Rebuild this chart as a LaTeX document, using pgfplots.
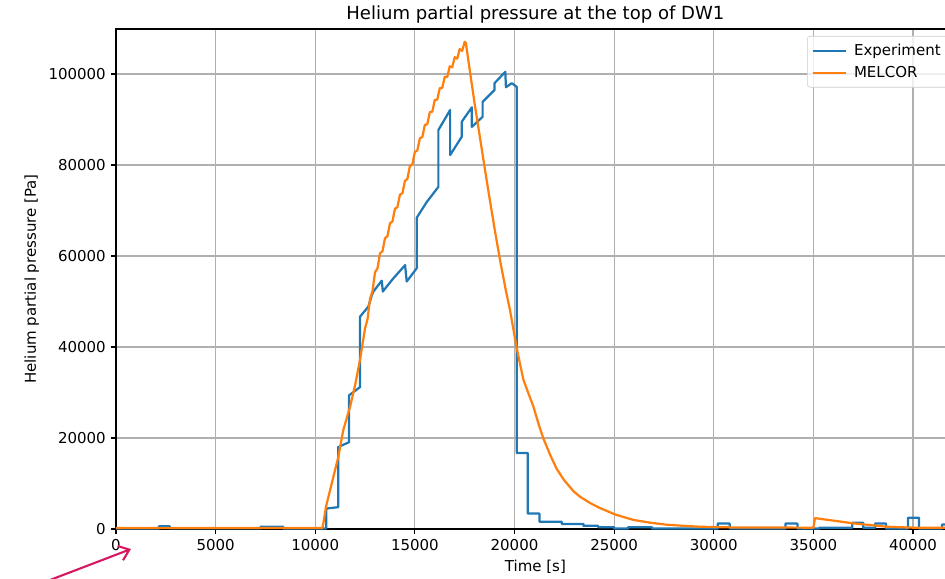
\documentclass[border=0pt]{standalone}
\usepackage{fontspec}
\setmainfont{DejaVu Sans}
\usepackage{pgfplots}
\pgfplotsset{compat=1.18}
\usetikzlibrary{arrows.meta}
\definecolor{mplblue}{HTML}{1F77B4}
\definecolor{mplorange}{HTML}{FF7F0E}
\definecolor{gridgray}{HTML}{B0B0B0}
\definecolor{legendgray}{HTML}{CCCCCC}
\definecolor{annot}{RGB}{214,22,96}
\begin{document}
\begin{tikzpicture}
\useasboundingbox (-83.5pt,-35.3pt) rectangle (596.9pt,380.9pt);
\begin{axis}[
  scale only axis, width=604pt, height=360pt,
  at={(0,0)}, anchor=south west,
  xmin=0, xmax=42100, ymin=0, ymax=109900,
  xtick={0,5000,...,40000}, ytick={0,20000,...,100000},
  scaled ticks=false,
  tick label style={font=\fontsize{10.8}{13}\selectfont},
  /pgf/number format/fixed, /pgf/number format/1000 sep={},
  /pgf/number format/assume math mode=true,
  grid=major, major grid style={color=gridgray, line width=0.85pt},
  tick align=outside, tick pos=left, major tick length=3.8pt,
  every tick/.style={black, line width=0.85pt},
  axis line style={line width=0.85pt},
  title={Helium partial pressure at the top of DW1},
  title style={font=\fontsize{13}{15}\selectfont, at={(0.5,1)}, anchor=base, yshift=0.5pt},
  xlabel={Time [s]}, ylabel={Helium partial pressure [Pa]},
  label style={font=\fontsize{10.8}{13}\selectfont},
  legend style={at={(1,1)}, anchor=north east, xshift=-5pt, yshift=-5pt,
    draw=legendgray, rounded corners=2pt, fill=white, fill opacity=0.8, text opacity=1,
    font=\fontsize{10.8}{13}\selectfont, row sep=2.5pt, inner xsep=3pt, inner ysep=3.5pt},
  legend cell align=left,
  legend image code/.code={\draw[#1] (0pt,0pt) -- (24pt,0pt); \path (27pt,0pt);},
]
\addplot[mplblue, line width=1.6pt, line join=round] coordinates {
(0,100)(2150,100)(2150,600)(2700,600)(2700,150)(7250,150)(7250,500)(8400,500)(8400,100)(10550,100)
(10550,4500)(11150,4800)(11150,18000)(11700,19100)(11700,29400)(12250,31200)(12250,46700)(12670,48900)(12840,51400)(12920,52200)(13340,54600)(13390,52200)(13920,55100)(14510,58000)(14590,54400)(15090,57300)(15090,68400)(15600,71900)(16180,75200)(16180,87700)(16770,92100)(16770,82200)(17350,86200)(17350,89500)(17860,92700)(17860,88400)(18400,90600)(18400,93900)(19000,96500)(19000,98000)(19540,100500)(19570,97100)(19860,98000)(20110,97200)(20110,16700)(20670,16700)(20670,3400)(21250,3400)(21250,1600)(22370,1600)(22370,1100)(23460,1100)(23460,700)(24200,700)(24200,400)(25000,400)(25000,100)(25700,100)(25700,400)(26900,400)(26900,100)(30200,100)(30200,1200)(30800,1200)(30800,100)(33600,100)(33600,1200)(34200,1200)(34200,100)(35300,100)(35300,300)(36950,300)(36950,1400)(37500,1400)(37500,300)(38100,300)(38100,1200)(38650,1200)(38650,100)(39750,100)(39750,2500)(40300,2500)(40300,100)(41450,100)(41450,1000)(42100,1000)
};
\addlegendentry{Experiment}
\addplot[mplorange, line width=1.6pt, line join=round] coordinates {
(0,250)(10370,250)(10540,4900)(11160,15900)(11410,21800)(11750,26900)(12000,31600)(12250,37300)(12500,44100)(12625,46150)(12750,50600)(12875,52300)(13000,56400)(13125,57300)(13250,60600)(13375,61050)(13500,63900)(13625,64350)(13750,67200)(13875,67600)(14000,70400)(14125,70750)(14250,73500)(14375,73800)(14500,76500)(14625,76950)(14750,79800)(14875,80150)(15000,82900)(15125,83200)(15250,85900)(15375,86150)(15500,88800)(15625,89000)(15750,91600)(15875,91750)(16000,94300)(16125,94400)(16250,96900)(16375,96950)(16500,99400)(16625,99350)(16750,101700)(16875,101500)(17000,103700)(17125,103400)(17250,105500)(17375,105100)(17500,107100)(17560,106800)(17800,99500)(18000,93500)(18440,81200)(18700,74000)(19000,66000)(19300,58500)(19550,52800)(19780,48000)(20000,42500)(20110,39900)(20300,35800)(20450,32800)(20700,29800)(20950,26900)(21200,23200)(21450,19900)(21800,16200)(22120,13200)(22500,10700)(22960,8300)(23290,7100)(23800,5700)(24300,4600)(25050,3200)(25970,2000)(26800,1400)(27640,950)(28500,700)(29320,500)(31000,350)(35000,300)(35080,2400)(37000,1250)(38700,500)(40000,300)(42100,300)
};
\addlegendentry{MELCOR}
\end{axis}
\draw[annot, line width=1.5pt, -{Straight Barb[length=7pt,width=11pt,line width=1.5pt]}] (-47.5pt,-36.7pt) -- (10.8pt,-14.4pt);
\end{tikzpicture}
\end{document}
